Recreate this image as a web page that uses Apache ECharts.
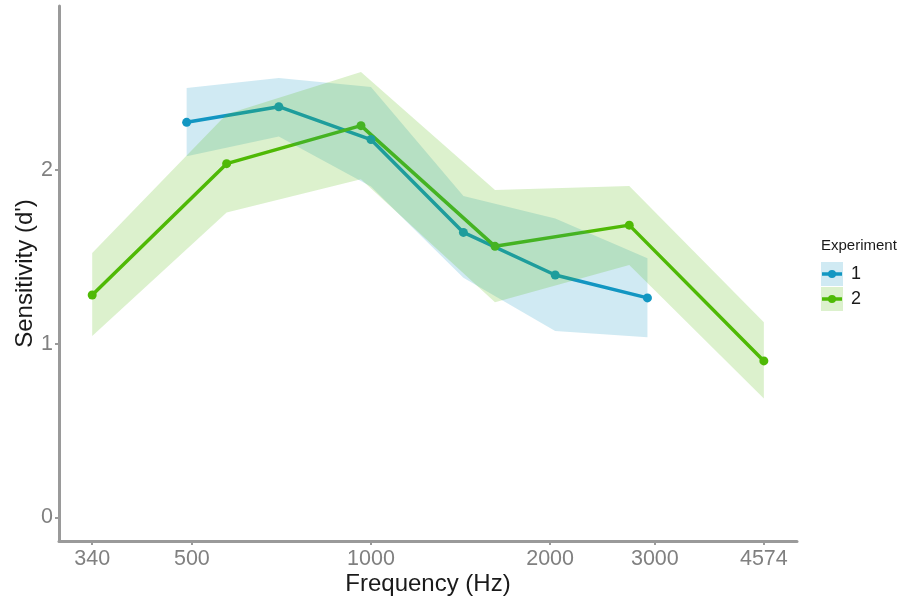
<!DOCTYPE html>
<html>
<head>
<meta charset="utf-8">
<script src="https://cdn.jsdelivr.net/npm/echarts@6/dist/echarts.min.js"></script>
<style>html,body{margin:0;padding:0;background:#fff}#c{width:900px;height:601px}</style>
</head>
<body>
<div id="c"></div>
<script>
// ---- data ----
const xTickLabels = [340, 500, 1000, 2000, 3000, 4574];
const yTickLabels = [0, 1, 2];

const freq1 = [490, 700, 1000, 1430, 2040, 2915];
const sens1 = [2.275, 2.365, 2.176, 1.641, 1.396, 1.264];
const low1  = [2.080, 2.193, 1.905, 1.380, 1.073, 1.038];
const high1 = [2.473, 2.530, 2.478, 1.851, 1.721, 1.492];

const freq2 = [340, 572, 962, 1616, 2717, 4574];
const sens2 = [1.281, 2.037, 2.256, 1.561, 1.683, 0.901];
const low2  = [1.044, 1.756, 1.947, 1.239, 1.453, 0.684];
const high2 = [1.522, 2.321, 2.565, 1.885, 1.908, 1.124];

const seriesNames = ['1', '2'];
const legendTitle = 'Experiment';
const xTitle = 'Frequency (Hz)';
const yTitle = "Sensitivity (d')";

// ---- style ----
const FONT = "'Liberation Sans', Arial, Helvetica, sans-serif";
const BLUE = '#1297c2';
const GREEN = '#4fba06';
const BLUE_FILL = 'rgba(18,151,194,0.2)';
const GREEN_FILL = 'rgba(79,186,6,0.2)';
const AXIS = '#9a9a9a';
const TICKTXT = '#808080';

function ribbon(freq, low, high, fill) {
  return {
    type: 'custom',
    coordinateSystem: 'cartesian2d',
    silent: true,
    z: 3,
    clip: true,
    data: freq.map((f, i) => [f, low[i], high[i]]),
    encode: { x: 0, y: [1, 2] },
    renderItem: function (params, api) {
      if (params.dataIndex !== 0) return null;
      const pts = [];
      for (let i = 0; i < freq.length; i++) pts.push(api.coord([freq[i], high[i]]));
      for (let i = freq.length - 1; i >= 0; i--) pts.push(api.coord([freq[i], low[i]]));
      return { type: 'polygon', shape: { points: pts }, style: { fill: fill } };
    }
  };
}

function line(name, freq, vals, color) {
  return {
    name: name,
    type: 'line',
    z: 2,
    data: freq.map((f, i) => [f, vals[i]]),
    symbol: 'circle',
    symbolSize: 9,
    showSymbol: true,
    lineStyle: { width: 3.5, color: color },
    itemStyle: { color: color },
    silent: true
  };
}

const chart = echarts.init(document.getElementById('c'), null, { renderer: 'canvas' });

const legendX = 821, boxW = 22, boxH = 24;
const legendY = [262, 287];

const option = {
  animation: false,
  backgroundColor: '#ffffff',
  grid: { left: 59, right: 103, top: 6, bottom: 58, containLabel: false },
  xAxis: {
    type: 'log',
    logBase: 10,
    min: 299,
    max: 5200,
    name: xTitle,
    nameLocation: 'middle',
    nameGap: 31,
    nameMoveOverlap: false,
    nameTextStyle: { fontSize: 24, color: '#1a1a1a', fontFamily: FONT },
    axisLine: { show: true, onZero: false, lineStyle: { color: AXIS, width: 3 } },
    axisTick: { show: true, customValues: xTickLabels, length: 4, lineStyle: { color: AXIS, width: 2 } },
    axisLabel: { customValues: xTickLabels, fontSize: 21.5, color: TICKTXT, fontFamily: FONT, margin: 7,
                 formatter: function (v) { return String(Math.round(v)); } },
    splitLine: { show: false },
    minorTick: { show: false },
    minorSplitLine: { show: false }
  },
  yAxis: {
    type: 'value',
    min: -0.136,
    max: 2.945,
    name: yTitle,
    nameLocation: 'middle',
    nameGap: 22,
    nameMoveOverlap: false,
    nameTextStyle: { fontSize: 24, color: '#1a1a1a', fontFamily: FONT },
    axisLine: { show: true, onZero: false, lineStyle: { color: AXIS, width: 3 } },
    axisTick: { show: true, customValues: yTickLabels, length: 4, lineStyle: { color: AXIS, width: 2 } },
    axisLabel: { customValues: yTickLabels, fontSize: 21.5, color: TICKTXT, fontFamily: FONT, margin: 6 },
    splitLine: { show: false }
  },
  series: [
    line(seriesNames[0], freq1, sens1, BLUE),
    line(seriesNames[1], freq2, sens2, GREEN),
    ribbon(freq1, low1, high1, BLUE_FILL),
    ribbon(freq2, low2, high2, GREEN_FILL)
  ],
  graphic: [
    { type: 'text', left: legendX, top: 238, style: { text: legendTitle, font: '15px ' + FONT, fill: '#1a1a1a' } },
    // key 1
    { type: 'rect', shape: { x: legendX, y: legendY[0], width: boxW, height: boxH }, style: { fill: BLUE_FILL } },
    { type: 'line', shape: { x1: legendX + 1, y1: legendY[0] + boxH / 2, x2: legendX + boxW - 1, y2: legendY[0] + boxH / 2 }, style: { stroke: BLUE, lineWidth: 3.5 } },
    { type: 'circle', shape: { cx: legendX + boxW / 2, cy: legendY[0] + boxH / 2, r: 4 }, style: { fill: BLUE } },
    { type: 'text', left: 851, top: legendY[0] + 3, style: { text: seriesNames[0], font: '18px ' + FONT, fill: '#1a1a1a' } },
    // key 2
    { type: 'rect', shape: { x: legendX, y: legendY[1], width: boxW, height: boxH }, style: { fill: GREEN_FILL } },
    { type: 'line', shape: { x1: legendX + 1, y1: legendY[1] + boxH / 2, x2: legendX + boxW - 1, y2: legendY[1] + boxH / 2 }, style: { stroke: GREEN, lineWidth: 3.5 } },
    { type: 'circle', shape: { cx: legendX + boxW / 2, cy: legendY[1] + boxH / 2, r: 4 }, style: { fill: GREEN } },
    { type: 'text', left: 851, top: legendY[1] + 3, style: { text: seriesNames[1], font: '18px ' + FONT, fill: '#1a1a1a' } }
  ]
};
chart.setOption(option);
</script>
</body>
</html>
